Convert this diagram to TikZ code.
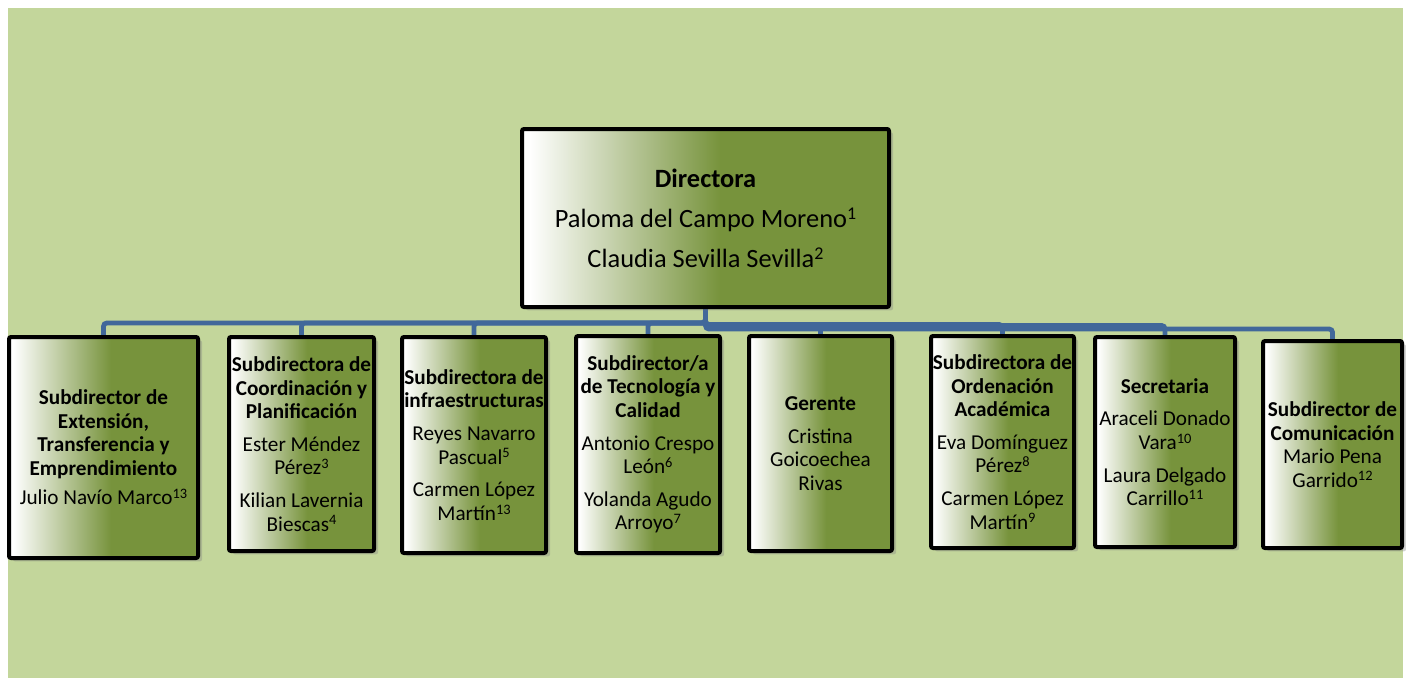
\documentclass[tikz,border=0pt]{standalone}
\usepackage{fontspec}
\usepackage{graphicx}
\setmainfont{Carlito}
\usetikzlibrary{shadows}
\definecolor{bggreen}{HTML}{C3D69B}
\definecolor{boxgreen}{HTML}{77933C}
\definecolor{linkblue}{HTML}{41689A}
\pgfdeclarehorizontalshading{boxshade}{100bp}{color(0bp)=(white); color(26bp)=(white); color(52bp)=(boxgreen); color(100bp)=(boxgreen)}
\pgfdeclarelayer{bglayer}
\pgfdeclarelayer{linklayer}
\pgfsetlayers{bglayer,linklayer,main}
\newcommand\smallfont{\fontsize{15.9}{17.6}\selectfont}
\newcommand\dirfont{\fontsize{19.8}{30}\selectfont}
\newcommand\tl[1]{\textbf{#1}}
\newcommand\sr[1]{\raisebox{0.3em}{\scalebox{0.68}{#1}}}
\tikzset{
  box/.style={draw=black, line width=3pt, rounded corners=1.5pt, shading=boxshade,
    inner sep=0pt, align=center, font=\smallfont,
    drop shadow={opacity=0.35, shadow xshift=3pt, shadow yshift=-2.5pt}},
  link/.style={draw=linkblue, line width=3.6pt, rounded corners=2.5pt}
}
\begin{document}
\begin{tikzpicture}[x=0.75pt,y=-0.75pt]
\useasboundingbox (0,0) rectangle (1406,678);
\begin{pgfonlayer}{bglayer}
\fill[bggreen] (8,8) rectangle (1403,678);
\end{pgfonlayer}

\node[box, font=\dirfont, minimum width=275.25pt, minimum height=133.5pt] (D) at (705.5,218)
  {\tl{Directora}\\Paloma del Campo Moreno\sr{1}\\Claudia Sevilla Sevilla\sr{2}};

\node[box, minimum width=141.75pt, minimum height=165.75pt] (B1) at (103.5,447.5)
  {\tl{Subdirector de}\\\tl{Extensión,}\\\tl{Transferencia y}\\\tl{Emprendimiento}\\[4.5pt]Julio Navío Marco\sr{13}};

\node[box, minimum width=108.75pt, minimum height=160.5pt] (B2) at (301.5,444)
  {\tl{Subdirectora de}\\\tl{Coordinación y}\\\tl{Planificación}\\[7pt]Ester Méndez\\Pérez\sr{3}\\[7pt]Kilian Lavernia\\Biescas\sr{4}};

\node[box, minimum width=108pt, minimum height=162pt] (B3) at (474,445)
  {\tl{Subdirectora de}\\\tl{infraestructuras}\\[7pt]Reyes Navarro\\Pascual\sr{5}\\[7pt]Carmen López\\Martín\sr{13}};

\node[box, minimum width=108pt, minimum height=162.75pt] (B4) at (648,444.5)
  {\tl{Subdirector/a}\\\tl{de Tecnología y}\\\tl{Calidad}\\[7pt]Antonio Crespo\\León\sr{6}\\[7pt]Yolanda Agudo\\Arroyo\sr{7}};

\node[box, minimum width=107.25pt, minimum height=161.25pt] (B5) at (820.5,443.5)
  {\tl{Gerente}\\[7pt]Cristina\\Goicoechea\\Rivas};

\node[box, minimum width=107.25pt, minimum height=159pt] (B6) at (1002.5,442)
  {\tl{Subdirectora de}\\\tl{Ordenación}\\\tl{Académica}\\[7pt]Eva Domínguez\\Pérez\sr{8}\\[7pt]Carmen López\\Martín\sr{9}};

\node[box, minimum width=105pt, minimum height=157.5pt] (B7) at (1165,442)
  {\tl{Secretaria}\\[7pt]Araceli Donado\\Vara\sr{10}\\[7pt]Laura Delgado\\Carrillo\sr{11}};

\node[box, minimum width=104.25pt, minimum height=155.25pt] (B8) at (1332.5,444.5)
  {\tl{Subdirector de}\\\tl{Comunicación}\\Mario Pena\\Garrido\sr{12}};

\begin{pgfonlayer}{linklayer}
\draw[link] (D.south) -- ++(0,14) -| (B1.north);
\draw[link] (D.south) -- ++(0,14) -| (B2.north);
\draw[link] (D.south) -- ++(0,14) -| (B3.north);
\draw[link] (D.south) -- ++(0,14) -| (B4.north);
\draw[link] (D.south) -- ++(0,15.5) -| (B5.north);
\draw[link] (D.south) -- ++(0,15.5) -| (B6.north);
\draw[link] (D.south) -- ++(0,16.5) -| (B7.north);
\draw[link] (D.south) -- ++(0,20) -| (B8.north);
\end{pgfonlayer}
\end{tikzpicture}
\end{document}
